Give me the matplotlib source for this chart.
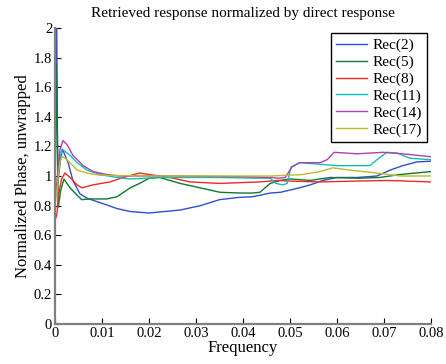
import matplotlib
matplotlib.use("Agg")
import matplotlib.pyplot as plt

plt.rcParams['font.family'] = ['Liberation Serif', 'DejaVu Serif']

title = "Retrieved response normalized by direct response"
xlabel = "Frequency"
ylabel = "Normalized Phase, unwrapped"

xticks = [0, 0.01, 0.02, 0.03, 0.04, 0.05, 0.06, 0.07, 0.08]
xticklabels = ["0", "0.01", "0.02", "0.03", "0.04", "0.05", "0.06", "0.07", "0.08"]
yticks = [0, 0.2, 0.4, 0.6, 0.8, 1.0, 1.2, 1.4, 1.6, 1.8, 2.0]
yticklabels = ["0", "0.2", "0.4", "0.6", "0.8", "1", "1.2", "1.4", "1.6", "1.8", "2"]

labels = ["Rec(2)", "Rec(5)", "Rec(8)", "Rec(11)", "Rec(14)", "Rec(17)"]
colors = ["#2f4fd0", "#0d7a30", "#f02828", "#12bcbc", "#b040b0", "#bcbc2a"]

x_rec2 = [0, 0.0003, 0.0006, 0.0012, 0.0016, 0.0020, 0.0028, 0.0038, 0.0053, 0.0068,
          0.0096, 0.0132, 0.016, 0.020, 0.0266, 0.031, 0.033, 0.035, 0.039, 0.042,
          0.0436, 0.0458, 0.048, 0.050, 0.052, 0.0543, 0.057, 0.060, 0.0643, 0.0685,
          0.0713, 0.074, 0.077, 0.080]
y_rec2 = [0.9, 2.3, 0.95, 1.12, 1.18, 1.15, 1.09, 0.97, 0.88, 0.85,
          0.82, 0.78, 0.76, 0.75, 0.77, 0.80, 0.82, 0.84, 0.855, 0.86,
          0.87, 0.885, 0.89, 0.905, 0.92, 0.94, 0.97, 0.99, 0.99, 1.0,
          1.04, 1.07, 1.095, 1.10]

x_rec5 = [0, 0.0003, 0.0007, 0.0012, 0.0019, 0.0032, 0.0047, 0.0057, 0.0074, 0.011,
          0.0132, 0.016, 0.018, 0.020, 0.0223, 0.0266, 0.0309, 0.0351, 0.0394, 0.0421,
          0.0436, 0.0458, 0.0479, 0.050, 0.0543, 0.0585, 0.0649, 0.0691, 0.0734, 0.080]
y_rec5 = [0.8, 1.75, 0.79, 0.9, 0.98, 0.92, 0.87, 0.84, 0.845, 0.845,
          0.86, 0.92, 0.95, 0.985, 0.99, 0.95, 0.92, 0.89, 0.885, 0.885,
          0.89, 0.95, 0.97, 0.98, 0.97, 0.99, 0.985, 0.99, 1.01, 1.03]

x_rec8 = [0, 0.0004, 0.0008, 0.0014, 0.0021, 0.0032, 0.0047, 0.0057, 0.0081, 0.0117,
          0.0145, 0.018, 0.020, 0.0245, 0.0287, 0.0351, 0.0394, 0.0436, 0.0472, 0.0506,
          0.0564, 0.0634, 0.0706, 0.080]
y_rec8 = [0.7, 0.74, 0.88, 0.98, 1.02, 0.99, 0.94, 0.92, 0.94, 0.96,
          0.99, 1.02, 1.01, 0.99, 0.96, 0.95, 0.955, 0.96, 0.97, 0.965,
          0.96, 0.965, 0.97, 0.96]

x_rec11 = [0, 0.0004, 0.0010, 0.0015, 0.0020, 0.0032, 0.0047, 0.0068, 0.0096, 0.0132,
           0.016, 0.0223, 0.035, 0.0436, 0.0458, 0.047, 0.0485, 0.0494, 0.0502, 0.0515,
           0.0521, 0.060, 0.067, 0.0685, 0.0706, 0.0728, 0.0755, 0.080]
y_rec11 = [0.9, 0.95, 1.12, 1.18, 1.17, 1.14, 1.09, 1.04, 1.01, 0.99,
           0.98, 0.99, 0.99, 0.985, 0.985, 0.95, 0.94, 0.95, 1.06, 1.08,
           1.09, 1.07, 1.07, 1.11, 1.16, 1.155, 1.12, 1.11]

x_rec14 = [0, 0.0004, 0.0010, 0.0017, 0.0026, 0.0038, 0.006, 0.0081, 0.011, 0.0138,
           0.025, 0.040, 0.046, 0.0475, 0.049, 0.0504, 0.052, 0.0564, 0.0579, 0.0594,
           0.0643, 0.0698, 0.074, 0.080]
y_rec14 = [0.85, 0.95, 1.17, 1.24, 1.21, 1.14, 1.07, 1.03, 1.01, 1.0,
           1.0, 0.995, 0.99, 0.985, 0.99, 1.06, 1.09, 1.09, 1.11, 1.16,
           1.15, 1.16, 1.15, 1.13]

x_rec17 = [0, 0.0004, 0.0010, 0.0015, 0.0022, 0.0032, 0.0047, 0.0068, 0.0096, 0.020,
           0.035, 0.046, 0.0527, 0.0564, 0.0591, 0.0627, 0.0685, 0.0734, 0.080]
y_rec17 = [0.8, 0.9, 1.09, 1.13, 1.12, 1.09, 1.04, 1.02, 1.005, 1.0,
           1.0, 1.0, 1.01, 1.03, 1.055, 1.04, 1.02, 1.0, 1.0]

series_x = [x_rec2, x_rec5, x_rec8, x_rec11, x_rec14, x_rec17]
series_y = [y_rec2, y_rec5, y_rec8, y_rec11, y_rec14, y_rec17]

fig = plt.figure(figsize=(4.46, 3.64), dpi=100)
ax = fig.add_axes([55 / 446, 40 / 364, 376 / 446, 296 / 364])

for xs, ys, c, lab in zip(series_x, series_y, colors, labels):
    ax.plot(xs, ys, color=c, lw=1.0, label=lab)

ax.set_xlim(0, 0.08)
ax.set_ylim(0, 2)
ax.set_xticks(xticks)
ax.set_xticklabels(xticklabels)
ax.set_yticks(yticks)
ax.set_yticklabels(yticklabels)
ax.tick_params(direction='in', length=4, width=0.8, labelsize=10.5, pad=2,
               top=False, right=False)

for s in ['top', 'right']:
    ax.spines[s].set_visible(False)
for s in ['left', 'bottom']:
    ax.spines[s].set_color('#808080')
    ax.spines[s].set_linewidth(1.6)

ax.set_title(title, fontsize=11, pad=8)
ax.set_xlabel(xlabel, fontsize=12, labelpad=0)
ax.set_ylabel(ylabel, fontsize=12, labelpad=2)

leg = ax.legend(loc='upper right', bbox_to_anchor=(1.0 - 4 / 376, 1.0 - 5 / 296),
                borderaxespad=0, fontsize=11, frameon=True, fancybox=False,
                handlelength=2.0, handletextpad=0.35, labelspacing=0.2,
                borderpad=0.35)
leg.get_frame().set_edgecolor('black')
leg.get_frame().set_linewidth(1.0)
leg.get_frame().set_alpha(1)

fig.savefig("out.png", dpi=100)
